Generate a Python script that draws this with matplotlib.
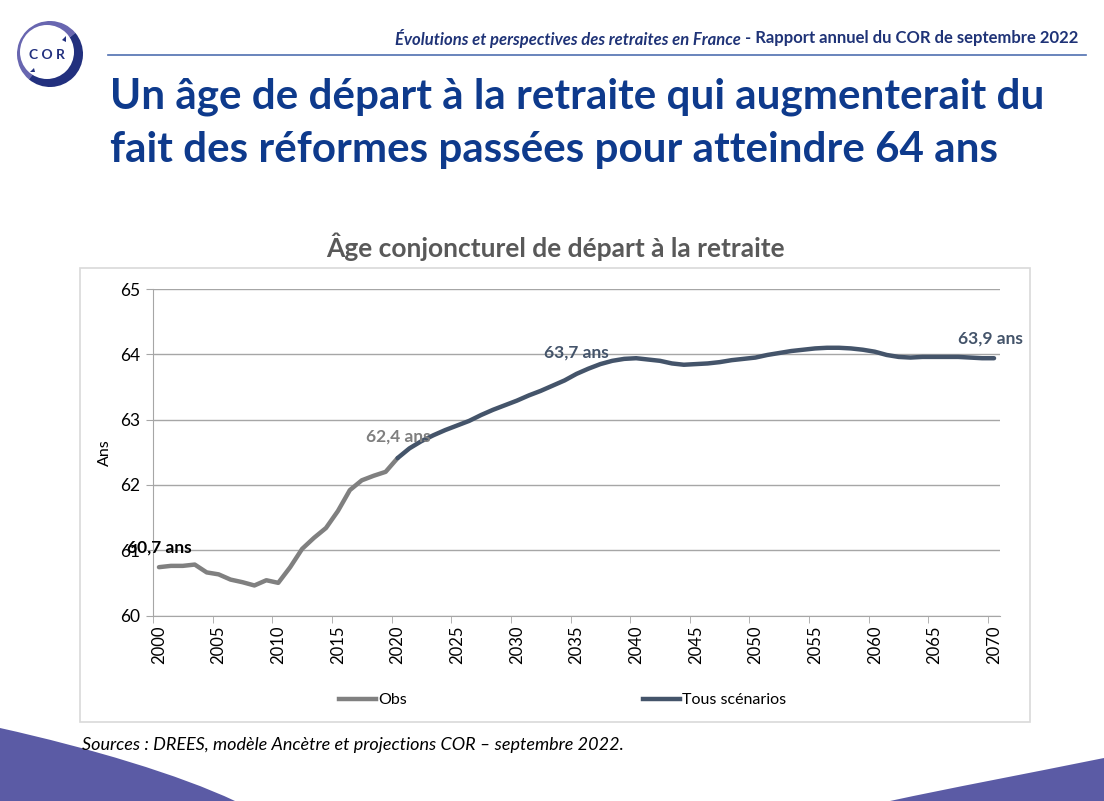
import numpy as np
import matplotlib.pyplot as plt
from matplotlib.patches import Rectangle, Circle, Wedge, Polygon, PathPatch
from matplotlib.path import Path
from matplotlib.lines import Line2D

plt.rcParams['font.family'] = ['Lato', 'DejaVu Sans']

# Observed retirement age (2000-2020)
obs_years = list(range(2000, 2021))
obs_age = [60.74, 60.76, 60.76, 60.78, 60.66, 60.63, 60.55, 60.51, 60.46, 60.54,
           60.50, 60.74, 61.02, 61.19, 61.34, 61.60, 61.92, 62.07, 62.14, 62.20, 62.41]

# Projection, all scenarios (2020-2070)
proj_years = list(range(2020, 2071))
proj_age = [62.41, 62.56, 62.67, 62.76, 62.84, 62.91, 62.98, 63.07, 63.15, 63.22,
            63.29, 63.37, 63.44, 63.52, 63.60, 63.70, 63.78, 63.85, 63.90, 63.93,
            63.94, 63.92, 63.90, 63.86, 63.84, 63.85, 63.86, 63.88, 63.91, 63.93,
            63.95, 63.99, 64.02, 64.05, 64.07, 64.09, 64.10, 64.10, 64.09, 64.07,
            64.04, 63.99, 63.96, 63.95, 63.96, 63.96, 63.96, 63.96, 63.95, 63.94,
            63.94]

year_ticks = list(range(2000, 2071, 5))
y_ticks = [60, 61, 62, 63, 64, 65]

# labels: (text, year, value, colour)
annotations = [
    ("60,7 ans", 2000, 60.74, "#000000"),
    ("62,4 ans", 2020, 62.41, "#7f7f7f"),
    ("63,7 ans", 2035, 63.70, "#44546a"),
    ("63,9 ans", 2070, 63.94, "#44546a"),
]

W, H = 1104, 801
fig = plt.figure(figsize=(W / 100, H / 100), dpi=100)


def fx(px):
    return px / W


def fy(py):
    return 1 - py / H


# background decoration: purple curves at the bottom
bg = fig.add_axes([0, 0, 1, 1], zorder=0)
bg.set_xlim(0, W)
bg.set_ylim(H, 0)
bg.axis('off')
purple = "#5b5ba5"
left_wave = Path([(0, 728), (90, 748), (180, 775), (235, 801), (0, 801), (0, 728)],
                 [Path.MOVETO, Path.CURVE4, Path.CURVE4, Path.CURVE4, Path.LINETO, Path.CLOSEPOLY])
bg.add_patch(PathPatch(left_wave, color=purple, lw=0))
right_wave = Path([(1104, 758), (1020, 775), (950, 788), (890, 801), (1104, 801), (1104, 758)],
                  [Path.MOVETO, Path.CURVE4, Path.CURVE4, Path.CURVE4, Path.LINETO, Path.CLOSEPOLY])
bg.add_patch(PathPatch(right_wave, color=purple, lw=0))

# logo
bg.add_patch(Wedge((50, 54), 33, 130, 320, color="#6866b0", lw=0))
bg.add_patch(Wedge((50, 54), 33, -40, 130, color="#22307e", lw=0))
bg.add_patch(Circle((47, 52), 27, color="white", lw=0))
bg.text(47, 55, "C O R", ha='center', va='center', fontsize=10, fontweight='bold', color="#22307e")
bg.add_patch(Polygon([(62, 40), (66, 36), (66, 42)], color="#22307e", lw=0))
bg.add_patch(Polygon([(34, 68), (30, 72), (35, 72)], color="#22307e", lw=0))

# header
hdr1 = "Évolutions et perspectives des retraites en France"
hdr2 = " - Rapport annuel du COR de septembre 2022"
t2 = fig.text(fx(1078), fy(38), hdr2, ha='right', va='center', fontsize=12,
              fontweight='bold', color="#1f3377")
fig.canvas.draw()
bb = t2.get_window_extent()
fig.text(bb.x0 / W, fy(38), hdr1, ha='right', va='center', fontsize=12,
         fontweight='bold', fontstyle='italic', color="#1f3377")
bg.plot([108, 1086], [55, 55], color="#4f6fb0", lw=1.2)

# main title
title_col = "#0e3a8c"
fig.text(fx(110), fy(97), "Un âge de départ à la retraite qui augmenterait du",
         ha='left', va='center', fontsize=30.3, fontweight='bold', color=title_col)
fig.text(fx(110), fy(150), "fait des réformes passées pour atteindre 64 ans",
         ha='left', va='center', fontsize=30.3, fontweight='bold', color=title_col)

# chart frame
bg.add_patch(Rectangle((80, 268), 950, 454, fill=False, edgecolor="#d9d9d9", lw=1.2))
fig.text(fx(555), fy(247), "Âge conjoncturel de départ à la retraite", ha='center', va='center',
         fontsize=19, fontweight='bold', color="#595959")

# plot area
ax = fig.add_axes([fx(153), fy(615.5), fx(1000) - fx(153), fy(289) - fy(615.5)], zorder=2)
ax.patch.set_alpha(0)
ax.plot(obs_years, obs_age, color="#808080", lw=3.2, solid_capstyle='round',
        solid_joinstyle='round', label="Obs", zorder=3)
ax.plot(proj_years, proj_age, color="#44546a", lw=3.2, solid_capstyle='round',
        solid_joinstyle='round', label="Tous scénarios", zorder=4)

ax.set_xlim(1999.5, 2070.5)
ax.set_ylim(60, 65)
ax.set_yticks(y_ticks)
ax.set_yticklabels([str(v) for v in y_ticks])
ax.set_xticks(year_ticks)
ax.set_xticklabels([str(y) for y in year_ticks], rotation=90)
ax.set_xticks([y - 0.5 for y in year_ticks], minor=True)
ax.tick_params(axis='x', which='major', length=0, pad=7, labelsize=12, colors="#000000")
ax.tick_params(axis='x', which='minor', length=5, color="#a6a6a6", direction='out')
ax.tick_params(axis='y', length=5, color="#a6a6a6", labelsize=12.5, pad=4)
ax.grid(axis='y', color="#a6a6a6", lw=1)
ax.set_axisbelow(True)
for s in ['top', 'right']:
    ax.spines[s].set_visible(False)
for s in ['left', 'bottom']:
    ax.spines[s].set_color("#a6a6a6")
ax.set_ylabel("Ans", fontsize=11.5, labelpad=6)

offsets = [(-32, 20), (-32, 22), (-32, 21), (-36, 20)]
for (txt, yr, val, col), (dx, dy) in zip(annotations, offsets):
    ax.annotate(txt, (yr, val), xytext=(dx, dy), textcoords='offset pixels',
                ha='left', va='center', fontsize=12.5, fontweight='bold', color=col, zorder=6)

handles = [Line2D([], [], color="#808080", lw=3.2), Line2D([], [], color="#44546a", lw=3.2)]
fig.legend(handles, ["Obs", "Tous scénarios"], loc='center left', bbox_to_anchor=(fx(339), fy(700)),
           ncol=2, frameon=False, fontsize=11.5, handlelength=2.3, handletextpad=0.15,
           columnspacing=14.8, borderaxespad=0, borderpad=0)

fig.text(fx(82), fy(745), "Sources : DREES, modèle Ancètre et projections COR – septembre 2022.",
         ha='left', va='center', fontsize=13, fontstyle='italic', color="#000000")

fig.savefig("out.png", dpi=100)
